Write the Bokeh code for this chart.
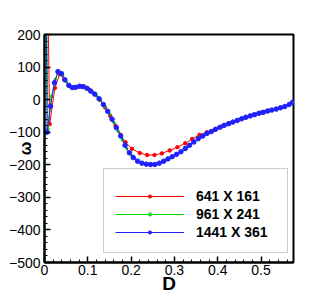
from bokeh.plotting import figure
from bokeh.models import (Range1d, SingleIntervalTicker, CustomJSTickFormatter,
                          Legend, LegendItem)
from bokeh.embed import file_html
from bokeh.resources import INLINE

# ---- data ----
series_names = ["641 X 161", "961 X 241", "1441 X 361"]

d_red = [0, 0.012, 0.024, 0.035, 0.046, 0.057, 0.068, 0.08, 0.092, 0.104,
         0.116, 0.128, 0.14, 0.152, 0.164, 0.176, 0.187, 0.202, 0.22, 0.237,
         0.254, 0.271, 0.289, 0.307, 0.325, 0.341, 0.358, 0.375, 0.392, 0.41,
         0.428, 0.446, 0.464, 0.482, 0.5, 0.518, 0.536, 0.554, 0.573]
w_red = [1000, -75, 36, 78, 62, 42, 37, 40, 39, 30,
         17, -1, -24, -50, -80, -108, -131, -151, -164, -170,
         -170, -165, -156, -146, -134, -121, -108, -100, -93, -82,
         -72, -63, -55, -47, -40, -34, -29, -22, -9]

d_green = [0, 0.008, 0.016, 0.025, 0.033, 0.042, 0.05, 0.058, 0.067, 0.075,
           0.084, 0.092, 0.101, 0.11, 0.12, 0.13, 0.14, 0.15, 0.16, 0.17,
           0.18, 0.19, 0.2, 0.213, 0.226, 0.239, 0.252, 0.265, 0.278, 0.291,
           0.304, 0.317, 0.33, 0.343, 0.356, 0.369, 0.382, 0.395, 0.408, 0.421,
           0.434, 0.447, 0.46, 0.473, 0.486, 0.499, 0.512, 0.525, 0.538, 0.551,
           0.564, 0.573]
w_green = [1000, -90, 10, 62, 84, 76, 55, 42, 36, 39,
           41, 39, 33, 24, 12, -2, -22, -44, -70, -97,
           -124, -150, -170, -186, -195, -198, -199, -195, -187, -178,
           -169, -158, -145, -132, -119, -109, -100, -91, -83, -76,
           -69, -62, -56, -51, -46, -41, -37, -32, -28, -23,
           -17, -9]

d_blue = [0, 0.006, 0.014, 0.023, 0.031, 0.039, 0.047, 0.056, 0.064, 0.072,
          0.081, 0.089, 0.098, 0.107, 0.116, 0.126, 0.136, 0.146, 0.156, 0.166,
          0.176, 0.186, 0.196, 0.205, 0.215, 0.225, 0.235, 0.245, 0.255, 0.265,
          0.275, 0.285, 0.295, 0.305, 0.315, 0.325, 0.335, 0.345, 0.355, 0.365,
          0.375, 0.385, 0.395, 0.405, 0.415, 0.425, 0.435, 0.445, 0.455, 0.465,
          0.475, 0.485, 0.495, 0.505, 0.515, 0.525, 0.535, 0.545, 0.555, 0.565,
          0.573]
w_blue = [1000, -100, -20, 52, 86, 80, 61, 44, 37, 38,
          41, 40, 35, 26, 17, 3, -15, -36, -60, -86,
          -112, -140, -163, -178, -189, -195, -198, -199, -199, -195,
          -189, -182, -175, -168, -160, -150, -140, -130, -120, -112,
          -104, -98, -91, -85, -79, -74, -69, -64, -59, -54,
          -50, -46, -42, -39, -35, -32, -29, -25, -21, -15,
          -8]

x_min, x_max = 0, 0.575
y_min, y_max = -500, 200

FONT = "Liberation Sans"
RED, GREEN, BLUE = "#ff0000", "#00dd00", "#2020ff"

p = figure(width=332, height=296, output_backend="svg", toolbar_location=None,
           x_range=Range1d(x_min, x_max), y_range=Range1d(y_min, y_max),
           min_border_left=44, min_border_right=39, min_border_top=34,
           min_border_bottom=34)
p.background_fill_color = "white"
p.border_fill_color = "white"
p.grid.visible = False
p.outline_line_color = "black"
p.outline_line_width = 2

p.xaxis.ticker = SingleIntervalTicker(interval=0.1, num_minor_ticks=5)
p.yaxis.ticker = SingleIntervalTicker(interval=100, num_minor_ticks=5)
p.xaxis.formatter = CustomJSTickFormatter(
    code="var s = tick.toFixed(1); return s == '0.0' ? '0' : s;")

for ax in (p.xaxis[0], p.yaxis[0]):
    ax.axis_line_width = 2
    ax.axis_line_color = "black"
    ax.major_tick_in = 6
    ax.major_tick_out = 0
    ax.minor_tick_in = 3
    ax.minor_tick_out = 0
    ax.major_tick_line_width = 1.5
    ax.minor_tick_line_width = 1
    ax.major_tick_line_color = "black"
    ax.minor_tick_line_color = "black"
    ax.major_label_text_font = FONT
    ax.major_label_text_font_size = "14px"
    ax.major_label_text_color = "black"
    ax.axis_label_text_font = FONT
    ax.axis_label_text_font_style = "bold"
    ax.axis_label_text_color = "black"

p.xaxis.axis_label = "D"
p.xaxis.axis_label_text_font_size = "19px"
p.xaxis.major_label_standoff = 2
p.xaxis.axis_label_standoff = -5

p.yaxis.axis_label = "ω"
p.yaxis.axis_label_text_font_size = "16px"
p.yaxis.major_label_standoff = 4
p.yaxis.axis_label_standoff = -28

red_l = p.line(d_red, w_red, line_color=RED, line_width=1)
red_m = p.scatter(d_red, w_red, marker="circle", size=3.5, fill_color=RED,
                  line_color=RED)
green_l = p.line(d_green, w_green, line_color=GREEN, line_width=1)
green_m = p.scatter(d_green, w_green, marker="circle", size=2.5,
                    fill_color=GREEN, line_color=GREEN)
blue_l = p.line(d_blue, w_blue, line_color=BLUE, line_width=1)
blue_m = p.scatter(d_blue, w_blue, marker="circle", size=4.5,
                   fill_color=BLUE, line_color=BLUE)

legend = Legend(items=[
    LegendItem(label=series_names[0], renderers=[red_l, red_m]),
    LegendItem(label=series_names[1], renderers=[green_l, green_m]),
    LegendItem(label=series_names[2], renderers=[blue_l, blue_m]),
], location=(59, 9))
legend.title = " "
legend.title_text_font_size = "7px"
legend.title_standoff = 0
legend.border_line_color = "#999999"
legend.border_line_width = 1
legend.background_fill_color = "white"
legend.background_fill_alpha = 1
legend.label_text_font = FONT
legend.label_text_font_style = "bold"
legend.label_text_font_size = "14px"
legend.label_text_color = "black"
legend.glyph_width = 69
legend.glyph_height = 8
legend.label_height = 18
legend.label_width = 80
legend.label_standoff = 12
legend.spacing = 0
legend.padding = 11
legend.margin = 0
p.add_layout(legend, "center")

open("out.html", "w").write(file_html(p, INLINE))
